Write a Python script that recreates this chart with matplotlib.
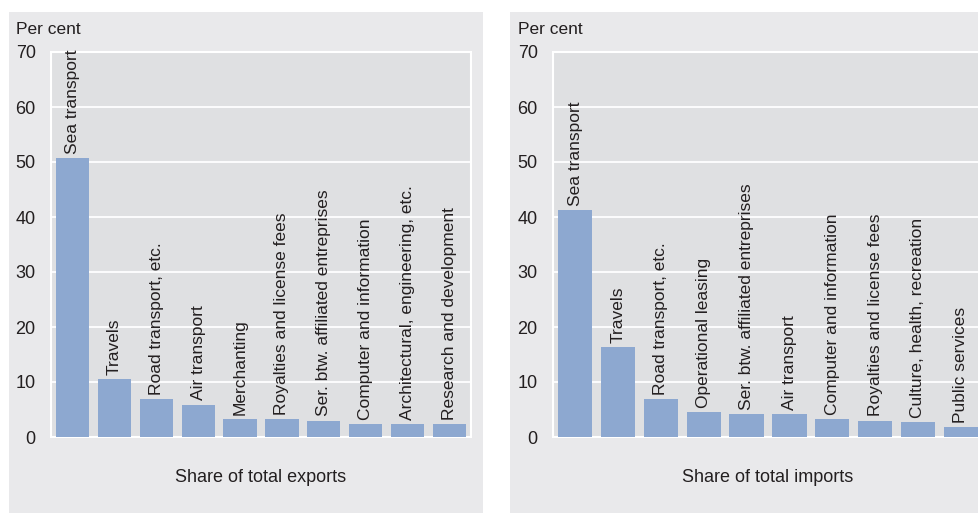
import matplotlib
matplotlib.use("Agg")
import matplotlib.pyplot as plt
from matplotlib.patches import Rectangle

plt.rcParams['font.family'] = ['Liberation Sans', 'DejaVu Sans']

export_labels = ["Sea transport", "Travels", "Road transport, etc.", "Air transport",
                 "Merchanting", "Royalties and license fees",
                 "Ser. btw. affiliated entreprises", "Computer and information",
                 "Architectural, engineering, etc.", "Research and development"]
export_values = [50.7, 10.5, 6.85, 5.9, 3.2, 3.2, 3.0, 2.3, 2.3, 2.3]

import_labels = ["Sea transport", "Travels", "Road transport, etc.", "Operational leasing",
                 "Ser. btw. affiliated entreprises", "Air transport",
                 "Computer and information", "Royalties and license fees",
                 "Culture, health, recreation", "Public services"]
import_values = [41.2, 16.3, 6.85, 4.5, 4.1, 4.1, 3.2, 3.0, 2.7, 1.75]

yticks = [0, 10, 20, 30, 40, 50, 60, 70]
xlabels = ["Share of total exports", "Share of total imports"]

W, H = 979, 513
fig = plt.figure(figsize=(W / 100, H / 100), dpi=100)
fig.patch.set_facecolor('white')

OUTER = '#E9E9EB'
INNER = '#DFE0E2'
BAR = '#8DA8D0'
TXT = '#231F20'

# outer panels
for (x0, x1) in [(9, 483), (510, 979)]:
    fig.patches.append(Rectangle((x0 / W, 0), (x1 - x0) / W, (H - 12) / H,
                                 transform=fig.transFigure, facecolor=OUTER,
                                 edgecolor='none', zorder=-10))

def fx(px):
    return px / W

def fy(py):
    return 1 - py / H

panels = [
    (51, 471, export_labels, export_values, xlabels[0]),
    (553, 983, import_labels, import_values, xlabels[1]),
]

for (l, r, labels, values, xl) in panels:
    top, bot = 52, 437
    ax = fig.add_axes([fx(l), fy(bot), (r - l) / W, (bot - top) / H])
    ax.set_zorder(1)
    ax.set_facecolor(INNER)
    x = list(range(len(values)))
    ax.bar(x, values, width=0.8, color=BAR, zorder=3)
    ax.set_xlim(-0.52, len(values) - 0.48)
    ax.set_ylim(0, 70)
    ax.set_yticks(yticks)
    ax.set_yticklabels([str(t) for t in yticks], fontsize=13, color=TXT)
    ax.tick_params(axis='y', length=0, pad=11)
    ax.set_xticks([])
    ax.yaxis.grid(True, color='white', linewidth=1.3, zorder=1)
    ax.set_axisbelow(True)
    for s in ax.spines.values():
        s.set_color('white')
        s.set_linewidth(1.5)
    for xi, v, lab in zip(x, values, labels):
        ax.annotate(lab, (xi, v), xytext=(0, 3), textcoords='offset points',
                    rotation=90, ha='center', va='bottom', fontsize=12.5,
                    color=TXT)
    fig.text(fx((l + r) / 2), fy(477), xl, ha='center', va='center',
             fontsize=13, color=TXT, zorder=2)
    fig.text(fx(l - 35), fy(29), "Per cent", ha='left', va='center',
             fontsize=12.5, color=TXT, zorder=2)

fig.savefig("out.png", dpi=100)
